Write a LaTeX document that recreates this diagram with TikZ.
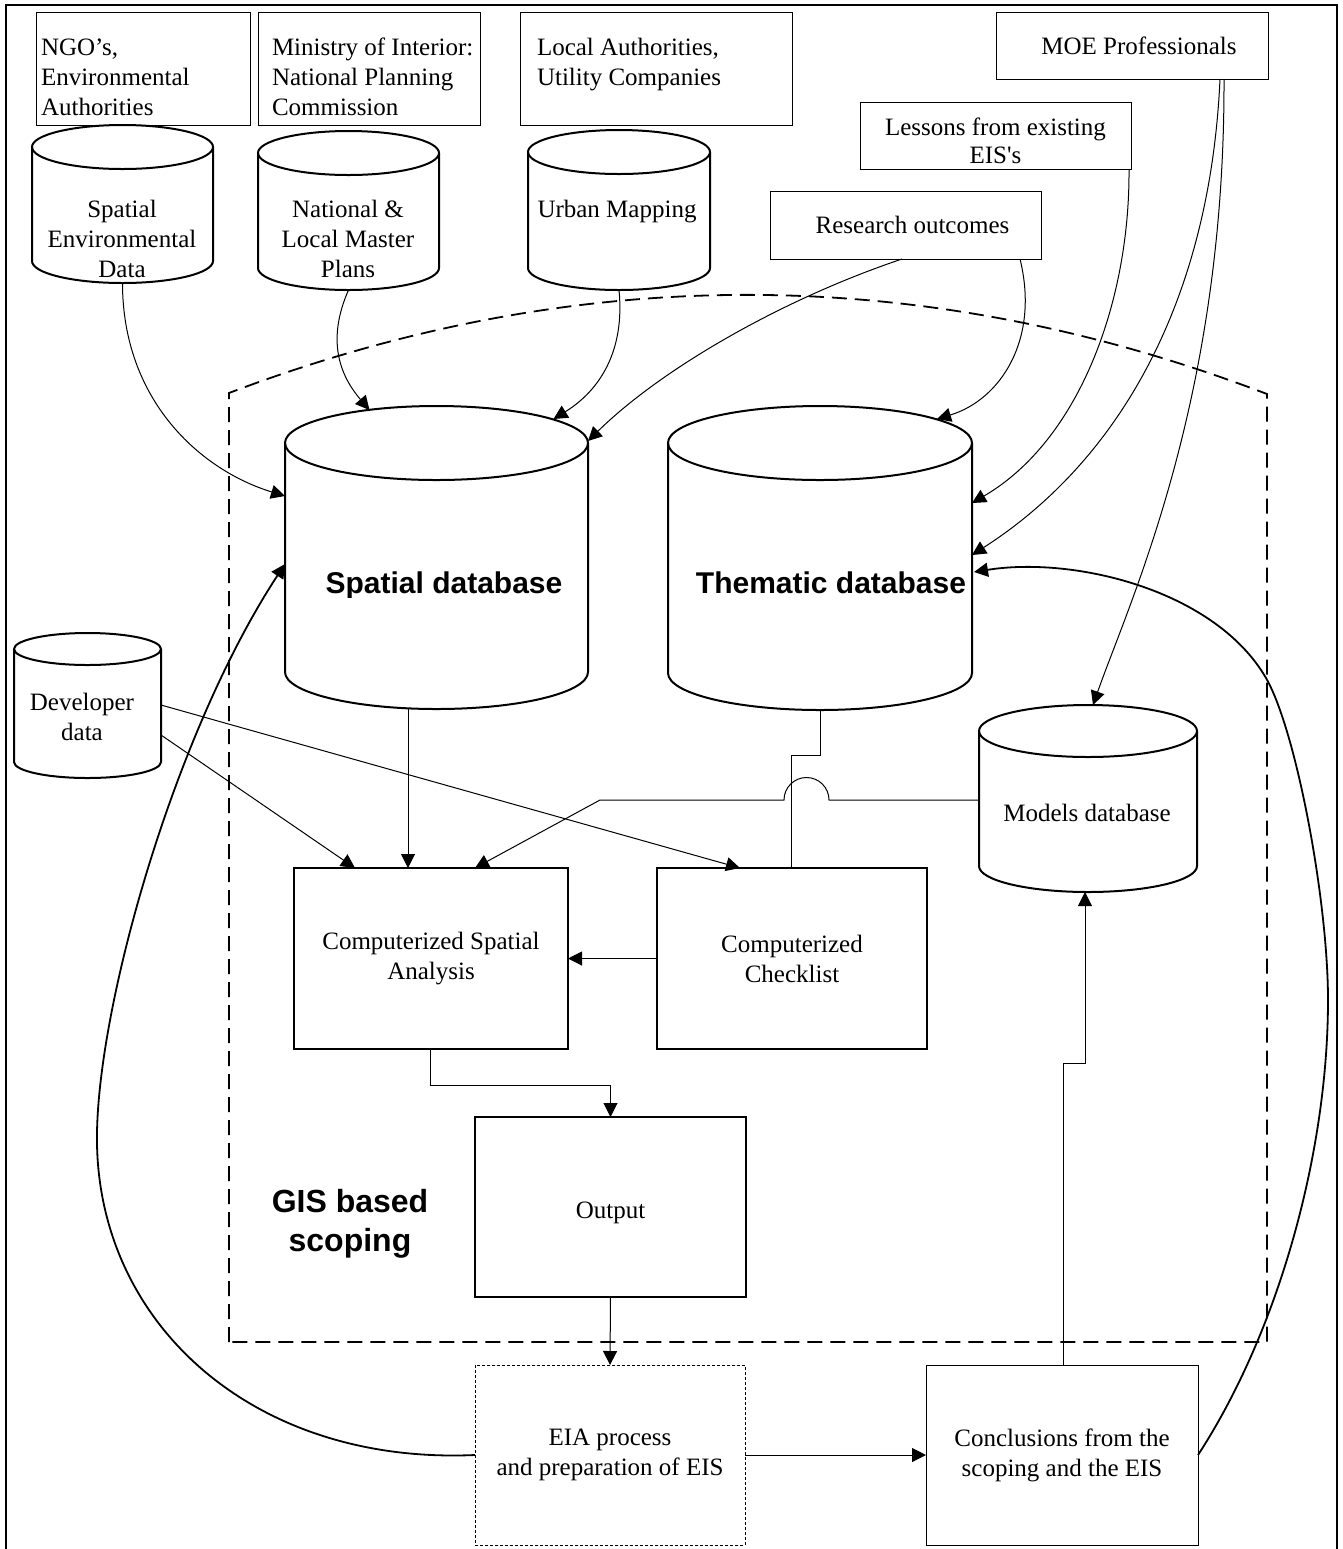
\documentclass[tikz,border=0pt]{standalone}
\usepackage{fontspec}
\setmainfont{Liberation Serif}[Ligatures=TeXOff]
\newfontfamily\sansb{Liberation Sans}
\usetikzlibrary{arrows.meta,calc}
\newcommand\txtsize{\fontsize{12.5pt}{15pt}\selectfont}
\newcommand\dbcyl[6]{%
  \node[inner sep=0pt, minimum width={(#3-#2)*0.5pt}, minimum height={(#5-#4)*0.5pt}] (#1) at ({(#2+#3)/2},{(#4+#5)/2}) {};
  \draw[cylline] (#2,#4+#6) -- (#2,#5-#6) arc[start angle=180,end angle=360,x radius={(#3-#2)*0.25pt},y radius={#6*0.5pt}] -- (#3,#4+#6);
  \draw[cylline] ({(#2+#3)/2},#4+#6) ellipse[x radius={(#3-#2)*0.25pt},y radius={#6*0.5pt}];
}
\tikzset{
  every node/.style={outer sep=0pt},
  conn/.style={line width=0.5pt, -{Triangle[length=7pt,width=7pt]}},
  plainline/.style={line width=0.5pt},
  bigcurve/.style={line width=0.9pt, -{Triangle[length=7pt,width=7pt]}},
  srcbox/.style={draw, line width=0.5pt, inner sep=0pt, align=center, font=\txtsize},
  thickbox/.style={draw, line width=1.4pt, inner sep=0pt, align=center, font=\txtsize},
  thinbox/.style={draw, line width=0.5pt, inner sep=0pt, align=center, font=\txtsize},
  eiabox/.style={draw, line width=0.5pt, dash pattern=on 1.5pt off 1pt, inner sep=0pt, align=center, font=\txtsize},
  cylline/.style={line width=1pt},
  lbl/.style={inner sep=0pt, align=center, font=\txtsize},
  lbll/.style={inner sep=0pt, align=left, font=\txtsize, anchor=west},
  dbtxt/.style={inner sep=0pt, font=\sansb\bfseries\fontsize{15pt}{18pt}\selectfont},
  gistxt/.style={inner sep=0pt, align=center, font=\sansb\bfseries\fontsize{16pt}{19.5pt}\selectfont},
  boundary/.style={line width=0.9pt, dash pattern=on 7.5pt off 4pt},
  frame/.style={line width=1.2pt}
}
\begin{document}
\begin{tikzpicture}[x=0.5pt,y=-0.5pt]
\useasboundingbox (0,0) rectangle (1343,1549);
% outer frame
\draw[frame] (6,1549) -- (6,5) -- (1337,5) -- (1337,1549);

% source boxes
\node[srcbox, minimum width=107pt, minimum height=56.5pt] (ngo) at (143,68.5) {};
\node[lbll] (ngot) at (41,77) {NGO’s,\\Environmental\\Authorities};
\node[srcbox, minimum width=111pt, minimum height=56.5pt] (moi) at (369,68.5) {};
\node[lbll] (moit) at (272,77) {Ministry of Interior:\\National Planning\\Commission};
\node[srcbox, minimum width=136pt, minimum height=56.5pt] (loc) at (656,68.5) {};
\node[lbll] (loct) at (537,65) {Local Authorities,\\Utility Companies};
\node[srcbox, minimum width=136pt, minimum height=33.5pt] (moe) at (1132,45.5) {\hspace*{7pt}MOE Professionals};
\node[srcbox, minimum width=135.5pt, minimum height=33.5pt] (les) at (995.5,135.5) {};
\node[lbl] (lest) at (995.5,141) {Lessons from existing\\[-1pt]EIS's};
\node[srcbox, minimum width=135.5pt, minimum height=34pt] (ro) at (905.5,225) {\hspace*{7pt}Research outcomes};

% cylinders
\dbcyl{sed}{32}{213}{125}{283}{22}
\node[lbl] (sedt) at (122,239) {Spatial\\Environmental\\Data};
\dbcyl{nlm}{258}{439}{131}{290}{22}
\node[lbl] (nlmt) at (348,239) {National \&\\Local Master\\Plans};
\dbcyl{um}{528}{710}{130}{290}{22}
\node[lbl] (umt) at (617,212) {Urban Mapping};
\dbcyl{sdb}{285}{588}{406}{709}{37}
\dbcyl{tdb}{668}{972}{406}{710}{37}
\dbcyl{dev}{14}{161}{633}{778}{16}
\node[lbl] (devt) at (82,717) {Developer\\data};
\dbcyl{mdb}{979}{1197}{705}{892}{26}
\node[lbl] (mdbt) at (1087,813) {Models database};

\begin{scope}
  \clip (280,540) rectangle (600,597);
  \node[dbtxt, anchor=base] (sdbt) at (444,593) {Spatial database};
\end{scope}
\node[dbtxt, anchor=base] (tdbt) at (831,593) {Thematic database};

% process boxes
\node[thickbox, minimum width=137pt, minimum height=90.5pt] (csa) at (431,958.5) {Computerized Spatial\\Analysis};
\node[thickbox, minimum width=135pt, minimum height=90.5pt] (chk) at (792,958.5) {Computerized\\Checklist};
\node[thickbox, minimum width=135.5pt, minimum height=90pt] (out) at (610.5,1207) {\raisebox{-3pt}[\height][\depth]{Output}};
\node[eiabox, minimum width=135pt, minimum height=90pt] (eia) at (610,1455) {EIA process\\and preparation of EIS};
\node[thinbox, minimum width=136pt, minimum height=90pt] (con) at (1062,1455) {Conclusions from the\\scoping and the EIS};

% GIS boundary
\draw[boundary] (229,1342) -- (229,393) .. controls (575,262) and (921,262) .. (1267,394) -- (1267,1342) -- cycle;
\begin{scope}
  \clip (240,1170) rectangle (470,1257);
  \node[gistxt] (gist) at (350,1224) {GIS based\\scoping};
\end{scope}

% connectors from sources
\draw[conn] (sed.south) .. controls +(0,117) and +(-85,-26) .. ($(sdb.north west)+(0,90)$);
\draw[conn] (nlm.south) .. controls +(-22,50) and +(-30,-35) .. ($(sdb.north)+(-67,4)$);
\draw[conn] (um.south) .. controls +(6,60) and +(47,-29) .. ($(sdb.north)+(117,13)$);
\draw[conn] ($(ro.south west)+(132,0)$) .. controls +(-122,41) and +(72,-71) .. ($(sdb.north east)+(0,35)$);
\draw[conn] ($(ro.south east)+(-21,0)$) .. controls +(20,81) and +(63,-19) .. ($(tdb.north)+(117,13)$);
\draw[conn] ($(les.south east)+(-2,0)$) .. controls +(1,131) and +(108,-63) .. ($(tdb.north east)+(0,97)$);
\draw[conn] ($(moe.south east)+(-48,0)$) .. controls +(-10,221) and +(148,-95) .. ($(tdb.north east)+(0,149)$);
\draw[conn] ($(moe.south east)+(-44,0)$) .. controls +(1,321) and +(37,-105) .. ($(mdb.north)+(5,0)$);

% internal connectors
\draw[conn] ($(sdb.south west)+(123,0)$) -- ($(csa.north west)+(114,0)$);
\draw[conn] ($(dev.north east)+(0,102)$) -- ($(csa.north west)+(61,0)$);
\draw[conn] ($(dev.north east)+(0,72)$) -- ($(chk.north west)+(83,0)$);
\draw[plainline] (tdb.south) -- ++(0,45) -- ++(-29,0) -- ($(chk.north west)+(134,0)$);
\draw[conn] ($(mdb.north west)+(0,95)$) -- ++(-150,0) arc[start angle=0,end angle=180,radius=11.25pt] -- ++(-184,0) -- ($(csa.north west)+(181,0)$);
\draw[conn] (chk.west) -- (csa.east);
\draw[conn] ($(csa.south west)+(136,0)$) |- ($(out.north)+(0,-32)$) -- (out.north);
\draw[conn] (out.south) -- (eia.north);
\draw[conn] (eia.east) -- (con.west);
\draw[conn] ($(con.north west)+(137,0)$) -- ++(0,-302) -| ($(mdb.south)+(-3,0)$);

% feedback curves
\draw[bigcurve] (eia.west) .. controls (250,1465) and (94,1320) .. (97,1133)
  .. controls (99,1000) and (175,732) .. ($(sdb.north west)+(0,158)$);
\draw[bigcurve] (con.east) .. controls (1280,1329) and (1328,1150) .. (1328,1000)
  .. controls (1328,900) and (1296,730) .. (1266,678)
  .. controls (1215,590) and (1074,556) .. ($(tdb.north east)+(2,166)$);
\end{tikzpicture}
\end{document}
